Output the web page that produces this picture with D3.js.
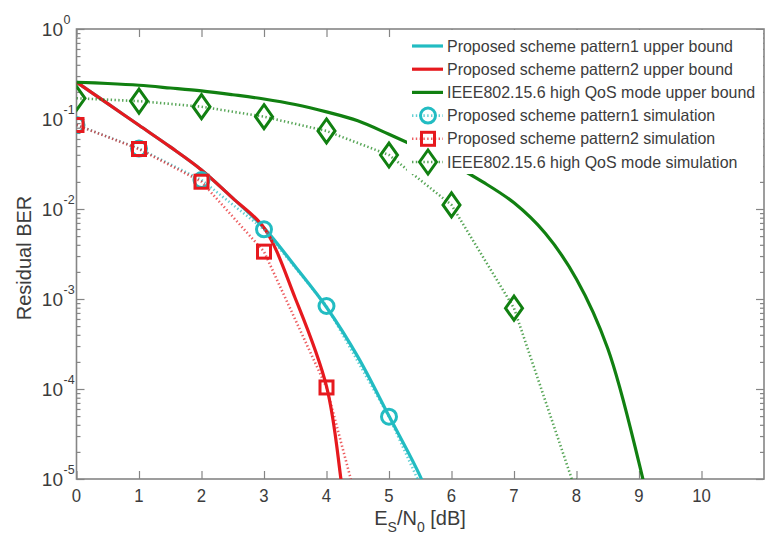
<!DOCTYPE html>
<html>
<head>
<meta charset="utf-8">
<script src="https://cdn.jsdelivr.net/npm/d3@7/dist/d3.min.js"></script>
<style>
  html, body { margin: 0; padding: 0; background: #fff; }
  svg { display: block; }
  text { font-family: "Liberation Sans", Arial, sans-serif; }
</style>
</head>
<body>
<svg id="chart" width="767" height="534"></svg>
<script>
// ---- data -------------------------------------------------------------
// Simulated residual BER at integer Es/N0 points
const snrSim = [0, 1, 2, 3, 4, 5, 6, 7, 8];
const simPattern1 = [0.0858, 0.047, 0.021, 0.00594, 8.36e-4, 4.92e-5, 1.5e-6];
const simPattern2 = [0.0858, 0.0464, 0.0201, 0.00336, 1.04e-4, 2.5e-7];
const simIeee = [0.170, 0.158, 0.137, 0.106, 0.0736, 0.0398, 0.0111, 7.9e-4, 7e-6];

// Analytical upper bounds
const snrBound1 = [0, 0.5, 1, 1.5, 2, 2.5, 3, 3.5, 4, 4.5, 5, 5.5, 6];
const boundPattern1 = [0.257, 0.148, 0.0851, 0.049, 0.0272, 0.0132, 0.00617, 0.00229, 8.1e-4, 2.29e-4, 5.0e-5, 1.07e-5, 1.6e-6];
const snrBound2 = [0, 0.5, 1, 1.5, 2, 2.5, 3, 3.5, 4, 4.25, 4.5];
const boundPattern2 = [0.257, 0.148, 0.0851, 0.049, 0.0272, 0.0132, 0.00617, 1.02e-3, 1.07e-4, 7.9e-6, 3.2e-7];
const snrBoundIeee = [0, 0.5, 1, 1.5, 2, 2.5, 3, 3.5, 4, 4.5, 5, 5.5, 6, 6.5, 7, 7.5, 8, 8.5, 9, 9.5];
const boundIeee = [0.256, 0.248, 0.237, 0.221, 0.205, 0.186, 0.167, 0.145, 0.120, 0.0955, 0.0676, 0.0468, 0.0316, 0.0200, 0.0117, 0.00537, 0.00166, 2.82e-4, 1.51e-5, 4e-7];

const xTicks = [0, 1, 2, 3, 4, 5, 6, 7, 8, 9, 10];
const yExponents = [0, -1, -2, -3, -4, -5];

const legendLabels = [
  "Proposed scheme pattern1 upper bound",
  "Proposed scheme pattern2 upper bound",
  "IEEE802.15.6 high QoS mode upper bound",
  "Proposed scheme pattern1 simulation",
  "Proposed scheme pattern2 simulation",
  "IEEE802.15.6 high QoS mode simulation"
];

// ---- layout -----------------------------------------------------------
const CYAN = "#22bcc2", RED = "#e6191e", GREEN = "#118011";
const AXIS = "#858585", LABEL = "#3c3c3c";
const pLeft = 76.5, pRight = 764, pTop = 29, pBottom = 479;

const svg = d3.select("#chart");
const x = d3.scaleLinear().domain([0, 11]).range([pLeft, pRight]);
const y = d3.scaleLog().domain([1e-5, 1]).range([pBottom, pTop]);

svg.append("defs").append("clipPath").attr("id", "plotClip")
  .append("rect").attr("x", pLeft).attr("y", pTop)
  .attr("width", pRight - pLeft).attr("height", pBottom - pTop);

// condensed look: squeeze each text horizontally by a factor
function squeeze(sel, factor) {
  sel.each(function () {
    const w = this.getComputedTextLength();
    d3.select(this).attr("textLength", w * factor).attr("lengthAdjust", "spacingAndGlyphs");
  });
}

// ---- axes frame & ticks -------------------------------------------------
const axes = svg.append("g");
axes.append("rect").attr("x", pLeft).attr("y", pTop)
  .attr("width", pRight - pLeft).attr("height", pBottom - pTop)
  .attr("fill", "none").attr("stroke", AXIS).attr("stroke-width", 1.6);

axes.append("g").attr("transform", `translate(0,${pBottom})`)
  .call(d3.axisBottom(x).tickValues(xTicks).tickSize(-8).tickFormat(""));
axes.append("g").attr("transform", `translate(0,${pTop})`)
  .call(d3.axisTop(x).tickValues(xTicks).tickSize(-8).tickFormat(""));

const minorY = [];
for (let e = -5; e < 0; e++) for (let m = 2; m <= 9; m++) minorY.push(m * Math.pow(10, e));
const majorY = yExponents.map(e => Math.pow(10, e));
[[d3.axisLeft, pLeft], [d3.axisRight, pRight]].forEach(([ax, pos]) => {
  axes.append("g").attr("transform", `translate(${pos},0)`)
    .call(ax(y).tickValues(majorY).tickSize(-8).tickFormat(""));
  axes.append("g").attr("transform", `translate(${pos},0)`)
    .call(ax(y).tickValues(minorY).tickSize(-4).tickFormat(""));
});
axes.selectAll(".domain").remove();
axes.selectAll(".tick line").attr("stroke", AXIS).attr("stroke-width", 1.2);

// x tick labels
svg.append("g").selectAll("text").data(xTicks).join("text")
  .attr("x", d => x(d)).attr("y", pBottom + 23)
  .attr("text-anchor", "middle").attr("font-size", 19).attr("fill", LABEL)
  .text(d => d)
  .call(squeeze, 0.88);

// y tick labels: 10 with superscript exponent
const yl = svg.append("g");
yExponents.forEach(e => {
  const yy = y(Math.pow(10, e));
  yl.append("text").attr("x", 63).attr("y", yy + 7)
    .attr("text-anchor", "end").attr("font-size", 19).attr("fill", LABEL).text("10");
  yl.append("text").attr("x", 63.5).attr("y", yy - 5)
    .attr("text-anchor", "start").attr("font-size", 12.5).attr("fill", LABEL).text(e);
});

// axis titles
svg.append("text").attr("transform", "translate(31,258) rotate(-90)")
  .attr("text-anchor", "middle").attr("font-size", 20).attr("fill", LABEL)
  .text("Residual BER");
const xt = svg.append("text").attr("x", 420).attr("y", 525)
  .attr("text-anchor", "middle").attr("font-size", 20).attr("fill", LABEL);
xt.append("tspan").text("E");
xt.append("tspan").attr("dy", 7).attr("font-size", 14).text("S");
xt.append("tspan").attr("dy", -7).text("/N");
xt.append("tspan").attr("dy", 7).attr("font-size", 14).text("0");
xt.append("tspan").attr("dy", -7).text(" [dB]");

// ---- curves -------------------------------------------------------------
const plot = svg.append("g").attr("clip-path", "url(#plotClip)");
const smooth = d3.line().x(d => x(d[0])).y(d => y(d[1])).curve(d3.curveCatmullRom.alpha(0.5));
const straight = d3.line().x(d => x(d[0])).y(d => y(d[1]));
const zipPts = (xs, ys) => ys.map((v, i) => [xs[i], v]);

const series = [
  { kind: "bound", xs: snrBound1, ys: boundPattern1, color: CYAN },
  { kind: "bound", xs: snrBound2, ys: boundPattern2, color: RED },
  { kind: "bound", xs: snrBoundIeee, ys: boundIeee, color: GREEN },
  { kind: "sim", xs: snrSim, ys: simPattern1, color: CYAN, marker: "circle" },
  { kind: "sim", xs: snrSim, ys: simPattern2, color: RED, marker: "square" },
  { kind: "sim", xs: snrSim, ys: simIeee, color: GREEN, marker: "diamond" }
];

function drawMarker(g, type, cx, cy, color) {
  if (type === "circle") {
    g.append("circle").attr("cx", cx).attr("cy", cy).attr("r", 7.5)
      .attr("fill", "none").attr("stroke", color).attr("stroke-width", 3);
  } else if (type === "square") {
    g.append("rect").attr("x", cx - 6.5).attr("y", cy - 6.5).attr("width", 13).attr("height", 13)
      .attr("fill", "none").attr("stroke", color).attr("stroke-width", 3);
  } else {
    g.append("path").attr("d", `M${cx},${cy - 12}L${cx + 8.5},${cy}L${cx},${cy + 12}L${cx - 8.5},${cy}Z`)
      .attr("fill", "none").attr("stroke", color).attr("stroke-width", 3);
  }
}

series.forEach(s => {
  const pts = zipPts(s.xs, s.ys);
  if (s.kind === "bound") {
    plot.append("path").attr("d", smooth(pts)).attr("fill", "none")
      .attr("stroke", s.color).attr("stroke-width", 3.2);
  } else {
    plot.append("path").attr("d", straight(pts)).attr("fill", "none")
      .attr("stroke", s.color).attr("stroke-width", 2.6).attr("stroke-opacity", 0.7)
      .attr("stroke-dasharray", "1.4,2.4");
    pts.forEach(p => drawMarker(plot, s.marker, x(p[0]), y(p[1]), s.color));
  }
});

// ---- legend -------------------------------------------------------------
const lg = svg.append("g");
lg.append("rect").attr("x", 407).attr("y", pTop + 1).attr("width", pRight - 408).attr("height", 144)
  .attr("fill", "#fff");
const legendTexts = [];
legendLabels.forEach((label, i) => {
  const s = series[i];
  const cy = 46 + i * 23.2;
  if (s.kind === "bound") {
    lg.append("line").attr("x1", 412).attr("x2", 443).attr("y1", cy).attr("y2", cy)
      .attr("stroke", s.color).attr("stroke-width", 3.2);
  } else {
    lg.append("line").attr("x1", 412).attr("x2", 443).attr("y1", cy).attr("y2", cy)
      .attr("stroke", s.color).attr("stroke-width", 2.6).attr("stroke-opacity", 0.7)
      .attr("stroke-dasharray", "1.4,2.4");
    drawMarker(lg, s.marker, 428, cy, s.color);
  }
  legendTexts.push(lg.append("text").attr("x", 447).attr("y", cy + 5.5).attr("font-size", 16.5)
    .attr("fill", LABEL).text(label));
});
// first entry spans 447..733; scale all entries by the same factor
const legendFactor = 286 / legendTexts[0].node().getComputedTextLength();
legendTexts.forEach(t => t.call(squeeze, legendFactor));
</script>
</body>
</html>
